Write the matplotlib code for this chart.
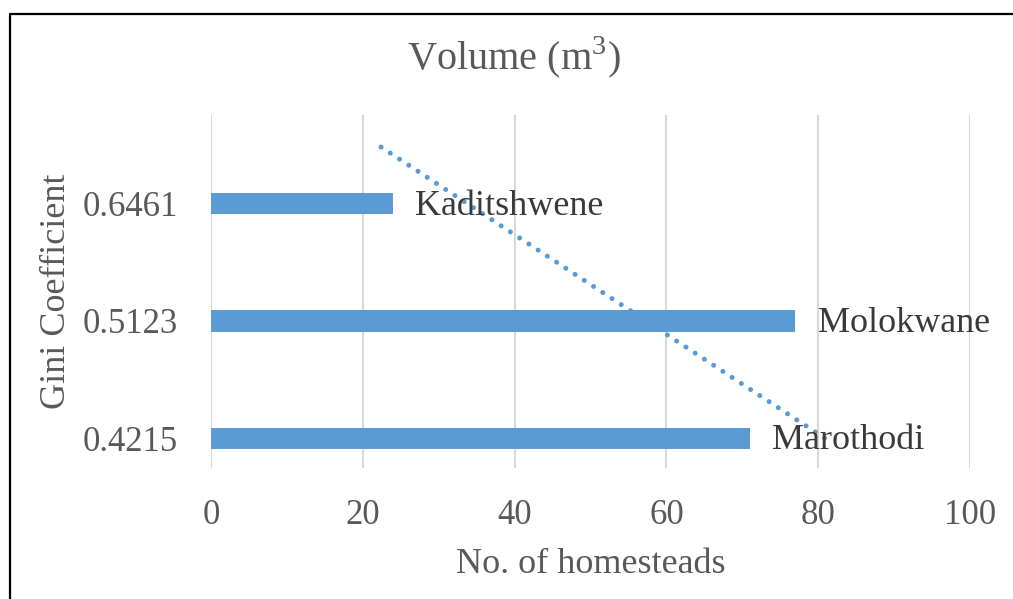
import numpy as np
import matplotlib
matplotlib.use("Agg")
from matplotlib import pyplot as plt
from matplotlib.lines import Line2D

# gini coefficients (bottom to top), homesteads per site, site names
gini = ["0.4215", "0.5123", "0.6461"]
homesteads = [71, 77, 24]
sites = ["Marothodi", "Molokwane", "Kaditshwene"]
x_ticks = [0, 20, 40, 60, 80, 100]

plt.rcParams["font.family"] = ["Liberation Serif", "DejaVu Serif"]

bar_blue = "#5B9BD5"
grey_txt = "#595959"
dark_txt = "#3A3A3A"

fig = plt.figure(figsize=(10.13, 5.99), dpi=100)
ax = fig.add_axes([211 / 1013, 1 - 468 / 599, (970 - 211) / 1013, (468 - 115) / 599])

pos = np.arange(1, len(gini) + 1)
ax.barh(pos, homesteads, height=0.18, color=bar_blue, zorder=2)

# linear trend over the categories, forecast half a step forward
k, b = np.polyfit(pos, homesteads, 1)
ty = np.array([pos[0], pos[-1] + 0.5])
ax.plot(k * ty + b, ty, color=bar_blue, lw=3.6, linestyle=(0, (0.01, 2.2)),
        dash_capstyle="round", zorder=3)

for p, v, name in zip(pos, homesteads, sites):
    ax.annotate(name, (v, p), xytext=(16, -2), textcoords="offset points",
                ha="left", va="center", fontsize=26, color=dark_txt, zorder=4)

ax.set_xlim(0, 100)
ax.set_ylim(0.744, 3.76)
ax.set_xticks(x_ticks)
ax.set_yticks(pos)
ax.set_yticklabels(gini)
ax.grid(axis="x", color="#D9D9D9", lw=1.5, zorder=0)
ax.tick_params(axis="x", length=0, pad=22, labelsize=25, labelcolor=grey_txt)
ax.tick_params(axis="y", length=0, pad=24, labelsize=25, labelcolor=grey_txt)
for s in ax.spines.values():
    s.set_visible(False)

ax.set_xlabel("No. of homesteads", fontsize=26, color=grey_txt, labelpad=12)
ax.set_ylabel("Gini Coefficient", fontsize=26, color=grey_txt, labelpad=7)
fig.text(0.507, 1 - 57 / 599, "Volume (m$^{\\mathregular{3}}$)", ha="center", va="center",
         fontsize=29, color=grey_txt)

# outer frame (left and top edges)
fig.add_artist(Line2D([10 / 1013, 10 / 1013, 1.0], [0.0, 1 - 14 / 599, 1 - 14 / 599],
                      transform=fig.transFigure, color="black", lw=1.6))

plt.savefig("out.png", dpi=100)
plt.close()
